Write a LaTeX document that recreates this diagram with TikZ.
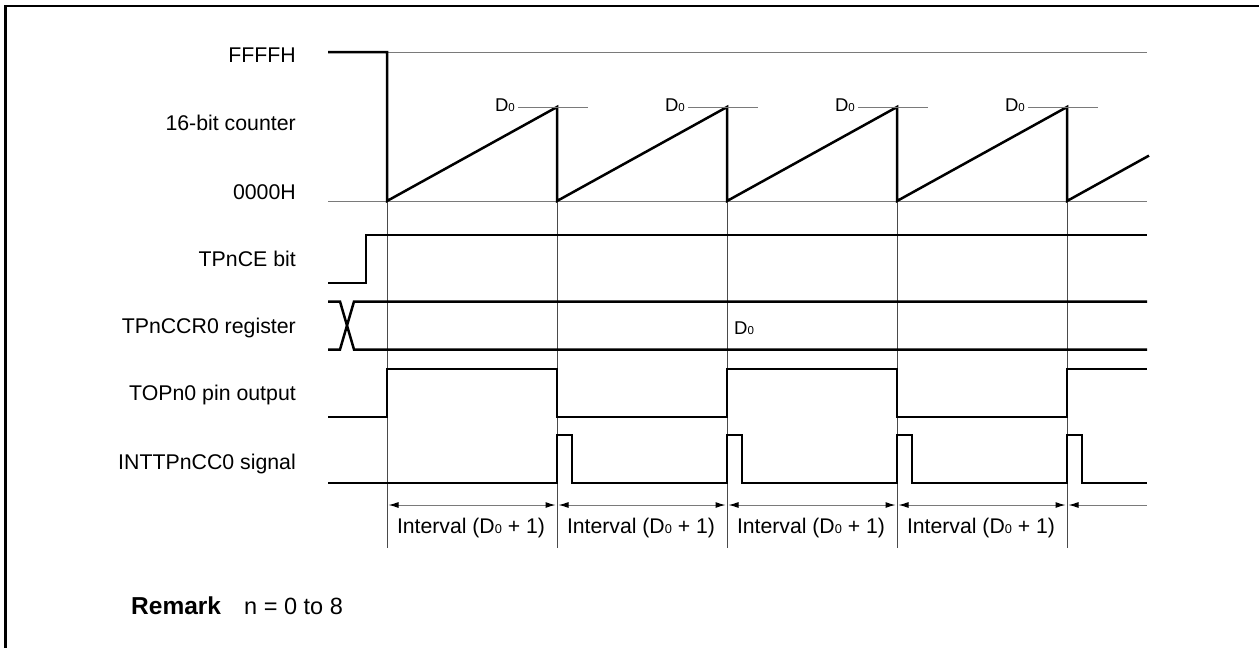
\documentclass[tikz,border=0pt]{standalone}
\usepackage{fontspec}
\setmainfont{Liberation Sans}
\usetikzlibrary{arrows.meta}
\definecolor{TGray}{HTML}{7A7A7A}
\definecolor{TDark}{HTML}{4A4A4A}
\newcommand{\Dsub}[1]{D{\fontsize{#1}{#1}\selectfont 0}}

\begin{document}
\begin{tikzpicture}[x=1pt,y=-1pt,
  lbl/.style={anchor=base east,inner sep=0pt,font=\fontsize{21.3}{25}\selectfont},
  txt/.style={anchor=base,inner sep=0pt,font=\fontsize{21.2}{25}\selectfont},
  sig/.style={line width=2.5pt,line join=miter},
  ref/.style={line width=1pt,color=TGray},
  edge/.style={line width=0.9pt,color=TDark},
  dimarr/.style={line width=1pt,color=TGray,
    {Latex[length=10pt,width=6pt,color=black]}-{Latex[length=10pt,width=6pt,color=black]}}
]
  \useasboundingbox (0,0) rectangle (1259,648);
  \draw[line width=2.5pt] (5.5,648) -- (5.5,6) -- (1259,6);

  % row labels
  \node[lbl] (ffff) at (296,62) {FFFFH};
  \node[lbl] (cnt) at (296,130) {16-bit counter};
  \node[lbl] (zero) at (296,199) {0000H};
  \node[lbl] (ce) at (296,266) {TPnCE bit};
  \node[lbl] (ccr) at (296,333) {TPnCCR0 register};
  \node[lbl] (top) at (296,400) {TOPn0 pin output};
  \node[lbl] (intp) at (296,469) {INTTPnCC0 signal};

  % reference levels
  \draw[ref] (387,52) -- (1147,52);
  \draw[ref] (328,201) -- (1147,201);
  \foreach \x in {387,557,727,897,1067}
    \draw[edge] (\x,201) -- (\x,548);

  % 16-bit counter
  \draw[sig] (328,52) -- (387,52) -- (387,201) -- (557,107) -- (557,201)
    -- (727,107) -- (727,201) -- (897,107) -- (897,201) -- (1067,107)
    -- (1067,201) -- (1149,155.6);
  \foreach \p [count=\i] in {557,727,897,1067} {
    \draw[ref] ({\p-39},107) -- ({\p+31},107);
    \node[anchor=base east,inner sep=0pt,font=\fontsize{18.5}{20}\selectfont]
      (d\i) at ({\p-42},111) {\Dsub{11.5}};
  }

  % TPnCE bit
  \draw[sig] (328,283) -- (366,283) -- (366,235) -- (1147,235);

  % TPnCCR0 register
  \draw[sig] (328,301.5) -- (340,301.5) -- (354,349.5) -- (1147,349.5);
  \draw[sig] (328,349.5) -- (340,349.5) -- (354,301.5) -- (1147,301.5);
  \node[anchor=base west,inner sep=0pt,font=\fontsize{18.5}{20}\selectfont]
    (dreg) at (734,334) {\Dsub{11.5}};

  % TOPn0 pin output
  \draw[sig] (328,417) -- (387,417) -- (387,369) -- (557,369) -- (557,417)
    -- (727,417) -- (727,369) -- (897,369) -- (897,417) -- (1067,417)
    -- (1067,369) -- (1147,369);

  % INTTPnCC0 signal
  \draw[sig] (328,483) -- (557,483) -- (557,435) -- (572,435) -- (572,483)
    -- (727,483) -- (727,435) -- (742,435) -- (742,483)
    -- (897,483) -- (897,435) -- (912,435) -- (912,483)
    -- (1067,483) -- (1067,435) -- (1082,435) -- (1082,483) -- (1147,483);

  % intervals
  \foreach \a/\b [count=\i] in {387/557,557/727,727/897,897/1067} {
    \draw[dimarr] ({\a+1.5},505) -- ({\b-1.5},505);
    \node[txt] (iv\i) at ({(\a+\b)/2-1},533) {Interval (\Dsub{12.8} + 1)};
  }
  \draw[line width=1pt,color=TGray,{Latex[length=10pt,width=6pt,color=black]}-]
    (1068.5,505) -- (1147,505);

  % remark
  \node[anchor=base west,inner sep=0pt,font=\fontsize{24.5}{28}\selectfont\bfseries]
    (rem) at (131,614) {Remark};
  \node[anchor=base west,inner sep=0pt,font=\fontsize{23.5}{27}\selectfont]
    (remn) at (244,614) {n = 0 to 8};
\end{tikzpicture}
\end{document}
